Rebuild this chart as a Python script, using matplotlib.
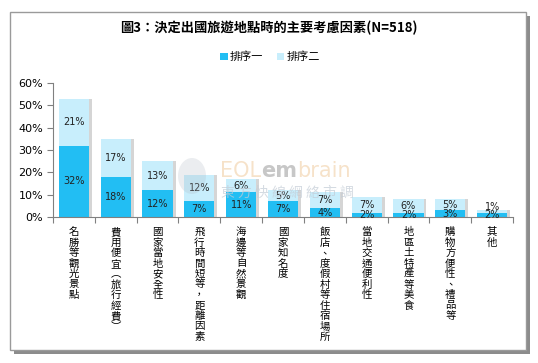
import matplotlib.pyplot as plt
import matplotlib.patches as mpatches
import numpy as np

plt.rcParams['font.family'] = ['Noto Sans CJK TC', 'DejaVu Sans']

categories = [
    "名勝等觀光景點",
    "費用便宜︵旅行經費︶",
    "國家當地安全性",
    "飛行時間短等，距離因素",
    "海邊等自然景觀",
    "國家知名度",
    "飯店、度假村等住宿場所",
    "當地交通便利性",
    "地區土特產等美食",
    "購物方便性、禮品等",
    "其他",
]
rank1 = [32, 18, 12, 7, 11, 7, 4, 2, 2, 3, 2]
rank2 = [21, 17, 13, 12, 6, 5, 7, 7, 6, 5, 1]
series_names = ["排序一", "排序二"]
title = "圖3：決定出國旅遊地點時的主要考慮因素(N=518)"

c1 = "#22BEF3"
c2 = "#C8EEFC"

fig = plt.figure(figsize=(5.38, 3.63), dpi=100)

# frame with shadow (figure pixel coords converted to fractions)
W, H = 538.0, 363.0
def fx(px):
    return px / W
def fy(py):
    return 1 - py / H

fig.patches.append(mpatches.Rectangle((fx(14), fy(354)), fx(530) - fx(14), fy(16) - fy(354),
                                      transform=fig.transFigure, facecolor="#8c8c8c",
                                      edgecolor="none", zorder=-2))
fig.patches.append(mpatches.Rectangle((fx(10), fy(350)), fx(526) - fx(10), fy(12) - fy(350),
                                      transform=fig.transFigure, facecolor="white",
                                      edgecolor="#9a9a9a", linewidth=1, zorder=-1))

ax = fig.add_axes([fx(53), fy(217), fx(513) - fx(53), fy(83) - fy(217)])
ax.set_facecolor("none")

x = np.arange(len(categories))
r1 = np.array(rank1) / 100
r2 = np.array(rank2) / 100
w = 0.72

# soft shadow behind bars
ax.bar(x + 0.07, r1 + r2, w, color="#d5d5d5", zorder=1)
ax.bar(x, r1, w, color=c1, label=series_names[0], zorder=2)
ax.bar(x, r2, w, bottom=r1, color=c2, label=series_names[1], zorder=2)

for i in range(len(x)):
    ax.text(x[i], r1[i] / 2, f"{rank1[i]}%", ha="center", va="center",
            fontsize=7, family="DejaVu Sans", color="#222222", zorder=6)
    y2 = r1[i] + r2[i] / 2
    if rank2[i] < 3:
        y2 = r1[i] + r2[i] + 0.015
    ax.text(x[i], y2, f"{rank2[i]}%", ha="center", va="center",
            fontsize=7, family="DejaVu Sans", color="#222222", zorder=6)

ax.set_xlim(-0.5, len(x) - 0.5)
ax.set_ylim(0, 0.6)
ax.set_yticks(np.arange(0, 0.61, 0.1))
ax.set_yticklabels([f"{int(round(v * 100))}%" for v in np.arange(0, 0.61, 0.1)],
                   family="DejaVu Sans", fontsize=8)
ax.set_xticks(np.arange(-0.5, len(x), 1.0))
ax.set_xticklabels([])
ax.tick_params(axis="x", length=4, color="#808080", direction="out")
ax.tick_params(axis="y", length=4, color="#808080", direction="out", pad=3)
for s in ["top", "right"]:
    ax.spines[s].set_visible(False)
for s in ["left", "bottom"]:
    ax.spines[s].set_color("#808080")

for i, cat in enumerate(categories):
    ax.text(x[i], -0.045, "\n".join(cat), ha="center", va="top", fontsize=7.5,
            linespacing=1.06, color="black")

# watermark, pieces placed one after another
fig.patches.append(mpatches.Ellipse((fx(192), fy(176)), 28 / W, 36 / H,
                                    transform=fig.transFigure, facecolor="#b0b8c4",
                                    edgecolor="none", alpha=0.25, zorder=4))
fig.canvas.draw()
renderer = fig.canvas.get_renderer()
xpos = fx(220)
for part, col, wt in [("EOL", "#f3d6b3", "normal"), ("em", "#b0b0b0", "bold"),
                      ("brain", "#f3d6b3", "normal")]:
    t = fig.text(xpos, fy(177), part, fontsize=15, color=col, alpha=0.7,
                 family="DejaVu Sans", weight=wt, zorder=4)
    bb = t.get_window_extent(renderer)
    xpos += bb.width / W
fig.text(fx(221), fy(197), "東 方 快 線 網 絡 市 調", fontsize=10, color="#c3ccd6",
         alpha=0.7, zorder=4)

fig.text(0.5, fy(28), title, ha="center", va="center", fontsize=9.5, weight="bold")

ax.legend(loc="center", bbox_to_anchor=(fx(270), fy(57)), bbox_transform=fig.transFigure,
          ncol=2, frameon=False, fontsize=8, handlelength=0.7, handleheight=0.7,
          handletextpad=0.2, columnspacing=1.2)

fig.savefig("out.png", dpi=100)
